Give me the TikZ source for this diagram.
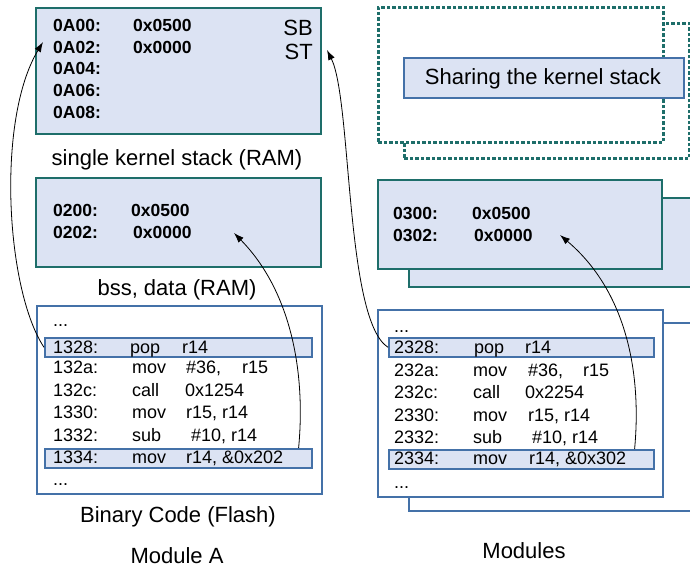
\documentclass[tikz,border=0pt]{standalone}
\usepackage{fontspec}
\setmainfont{Liberation Sans}
\usetikzlibrary{arrows.meta}

\definecolor{stackteal}{HTML}{1E6E6A}
\definecolor{codeblue}{HTML}{4471A8}
\definecolor{cellfill}{HTML}{DCE3F3}

\tikzset{
    rambox/.style={draw=stackteal, fill=cellfill, line width=2pt, anchor=north west, inner sep=0pt},
    flashbox/.style={draw=codeblue, fill=white, line width=2pt, anchor=north west, inner sep=0pt},
    rowbox/.style={draw=codeblue, fill=cellfill, line width=1.6pt, anchor=north west, inner sep=0pt},
    sharebox/.style={draw=stackteal, fill=white, line width=2.6pt, dash pattern=on 3.5pt off 2pt, anchor=north west, inner sep=0pt},
    memtxt/.style={anchor=base west, inner sep=0pt, font=\fontsize{17.5}{19}\selectfont\bfseries},
    codetxt/.style={anchor=base west, inner sep=0pt, font=\fontsize{18}{20}\selectfont},
    caption/.style={anchor=base, inner sep=0pt, font=\fontsize{22}{24}\selectfont},
    ptr/.style={-{Latex[length=10pt,width=7pt]}, line width=0.8pt},
}

\begin{document}
\begin{tikzpicture}[x=1pt, y=-1pt]
    \useasboundingbox (0,0) rectangle (690,568);
    \clip (0,0) rectangle (690,568);

    % Module A
    \node[rambox, minimum width=285pt, minimum height=126pt] (stack) at (35,7) {};
    \node[memtxt] (addrK1) at (53,31) {0A00:};
    \node[memtxt] (valK1) at (133,31) {0x0500};
    \node[memtxt] (addrK2) at (53,53) {0A02:};
    \node[memtxt] (valK2) at (133,53) {0x0000};
    \node[memtxt] (addrK3) at (53,74) {0A04:};
    \node[memtxt] (addrK4) at (53,96) {0A06:};
    \node[memtxt] (addrK5) at (53,118) {0A08:};
    \node[anchor=base east, inner sep=0pt, font=\fontsize{22}{24}\selectfont] (sb) at (313,35) {SB};
    \node[anchor=base east, inner sep=0pt, font=\fontsize{22}{24}\selectfont] (st) at (313,59) {ST};
    \node[caption] (stacklbl) at (177,165) {single kernel stack (RAM)};

    \node[rambox, minimum width=285pt, minimum height=89pt] (bss) at (35,177) {};
    \node[memtxt] (addrB1) at (53,216) {0200:};
    \node[memtxt] (valB1) at (131,216) {0x0500};
    \node[memtxt] (addrB2) at (53,238) {0202:};
    \node[memtxt] (valB2) at (133,238) {0x0000};
    \node[caption] (bsslbl) at (177,295) {bss, data (RAM)};

    \node[flashbox, minimum width=285pt, minimum height=188pt] (flash) at (36,305) {};
    \node[rowbox, minimum width=267pt, minimum height=19pt] (popA) at (44,337) {};
    \node[rowbox, minimum width=267pt, minimum height=19pt] (movA) at (44,448) {};
    \node[codetxt] (dotsA1) at (53,326) {...};
    \node[codetxt] (addrA1) at (53,353) {1328:};
    \node[codetxt] (opA1) at (130,353) {pop};
    \node[codetxt] (argA1) at (182,353) {r14};
    \node[codetxt] (addrA2) at (53,373) {132a:};
    \node[codetxt] (opA2) at (132,373) {mov};
    \node[codetxt] (argA2) at (186,373) {\#36,};
    \node[codetxt] (regA2) at (242,373) {r15};
    \node[codetxt] (addrA3) at (53,396) {132c:};
    \node[codetxt] (opA3) at (132,396) {call};
    \node[codetxt] (argA3) at (185,396) {0x1254};
    \node[codetxt] (addrA4) at (53,418) {1330:};
    \node[codetxt] (opA4) at (132,418) {mov};
    \node[codetxt] (argA4) at (186,418) {r15, r14};
    \node[codetxt] (addrA5) at (53,441) {1332:};
    \node[codetxt] (opA5) at (132,441) {sub};
    \node[codetxt] (argA5) at (191,441) {\#10, r14};
    \node[codetxt] (addrA6) at (53,463) {1334:};
    \node[codetxt] (opA6) at (132,463) {mov};
    \node[codetxt] (argA6) at (186,463) {r14, \&0x202};
    \node[codetxt] (dotsA2) at (53,485) {...};
    \node[caption] (flashlbl) at (178,522) {Binary Code (Flash)};
    \node[caption] (modA) at (177,563) {Module A};

    % Modules
    \node[sharebox, minimum width=285pt, minimum height=135pt] (shareback) at (403,22) {};
    \node[sharebox, minimum width=285pt, minimum height=135pt] (sharefront) at (377,6) {};
    \node[draw=codeblue, fill=cellfill, line width=1.6pt, anchor=north west, inner sep=0pt,
          minimum width=280pt, minimum height=40pt] (share) at (403,57) {};
    \node[caption] (sharelbl) at (543,84) {Sharing the kernel stack};

    \node[rambox, minimum width=320pt, minimum height=89pt] (bssback) at (408,197) {};
    \node[rambox, minimum width=284pt, minimum height=89pt] (modbss) at (377,179) {};
    \node[memtxt] (addrM1) at (393,219) {0300:};
    \node[memtxt] (valM1) at (472,219) {0x0500};
    \node[memtxt] (addrM2) at (393,241) {0302:};
    \node[memtxt] (valM2) at (474,241) {0x0000};

    \node[flashbox, minimum width=320pt, minimum height=188pt] (flashback) at (408,322) {};
    \node[flashbox, minimum width=285pt, minimum height=187pt] (modflash) at (377,309) {};
    \node[rowbox, minimum width=265pt, minimum height=19pt] (popM) at (388,337) {};
    \node[rowbox, minimum width=265pt, minimum height=19pt] (movM) at (388,449) {};
    \node[codetxt] (dotsM1) at (394,332) {...};
    \node[codetxt] (addrC1) at (394,353) {2328:};
    \node[codetxt] (opC1) at (474,353) {pop};
    \node[codetxt] (argC1) at (525,353) {r14};
    \node[codetxt] (addrC2) at (394,376) {232a:};
    \node[codetxt] (opC2) at (473,376) {mov};
    \node[codetxt] (argC2) at (528,376) {\#36,};
    \node[codetxt] (regC2) at (583,376) {r15};
    \node[codetxt] (addrC3) at (394,398) {232c:};
    \node[codetxt] (opC3) at (473,398) {call};
    \node[codetxt] (argC3) at (525,398) {0x2254};
    \node[codetxt] (addrC4) at (394,421) {2330:};
    \node[codetxt] (opC4) at (473,421) {mov};
    \node[codetxt] (argC4) at (528,421) {r15, r14};
    \node[codetxt] (addrC5) at (394,443) {2332:};
    \node[codetxt] (opC5) at (473,443) {sub};
    \node[codetxt] (argC5) at (532,443) {\#10, r14};
    \node[codetxt] (addrC6) at (394,464) {2334:};
    \node[codetxt] (opC6) at (473,464) {mov};
    \node[codetxt] (argC6) at (529,464) {r14, \&0x302};
    \node[codetxt] (dotsM2) at (394,488) {...};
    \node[caption] (modlbl) at (524,558) {Modules};

    % pointers
    \coordinate (tipK) at ([shift={(-10pt,11pt)}]addrK2.base west);
    \coordinate (tipB) at (234,233);
    \coordinate (tipS) at ([shift={(14pt,9pt)}]st.base east);
    \coordinate (tipM) at (560,235);
    \draw[ptr] (popA.west) .. controls (6,290) and (-4,120) .. (tipK);
    \draw[ptr] ([xshift=-14pt]movA.north east) .. controls (306,370) and (290,290) .. (tipB);
    \draw[ptr] (popM.west) .. controls (345,320) and (352,100) .. (tipS);
    \draw[ptr] ([xshift=-20pt]movM.north east) .. controls (642,370) and (625,290) .. (tipM);
\end{tikzpicture}
\end{document}
